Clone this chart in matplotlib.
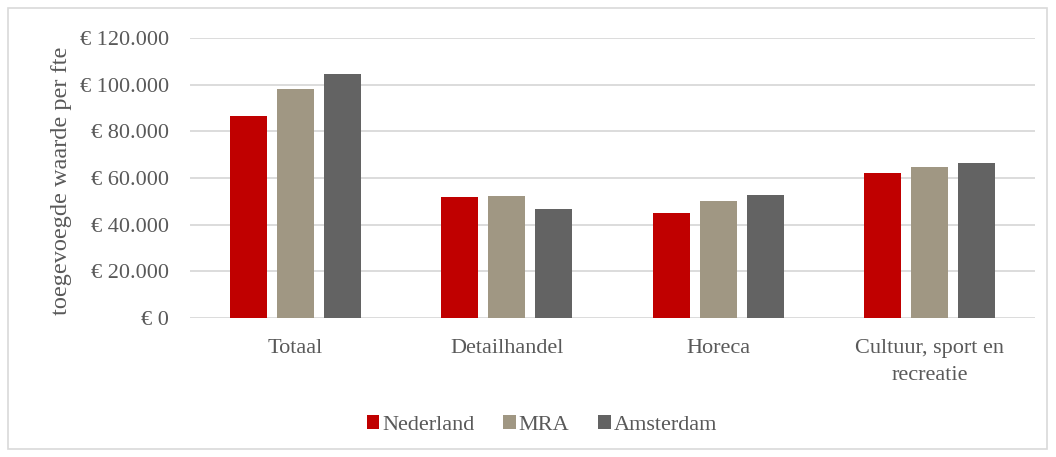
import matplotlib
matplotlib.use("Agg")
import matplotlib.pyplot as plt
from matplotlib.patches import Rectangle
import numpy as np

categories = ["Totaal", "Detailhandel", "Horeca", "Cultuur, sport en\nrecreatie"]
series_names = ["Nederland", "MRA", "Amsterdam"]
nederland = [86400, 52000, 44900, 62100]
mra = [98000, 52400, 50100, 64700]
amsterdam = [104600, 46700, 52900, 66300]
yticks = [0, 20000, 40000, 60000, 80000, 100000, 120000]
ytick_labels = ["€ 0", "€ 20.000", "€ 40.000", "€ 60.000", "€ 80.000", "€ 100.000", "€ 120.000"]
colors = ["#C00000", "#A09783", "#636363"]

plt.rcParams['font.family'] = ['Liberation Serif', 'DejaVu Serif']
text_color = "#595959"

W, H = 1056, 457
fig = plt.figure(figsize=(W / 100, H / 100), dpi=100)
ax = fig.add_axes([190 / W, 1 - 318 / H, (1035 - 190) / W, (318 - 38) / H])

x = np.arange(len(categories))
bw = 0.175
offs = 0.222
for i, (vals, name) in enumerate(zip([nederland, mra, amsterdam], series_names)):
    ax.bar(x + (i - 1) * offs, vals, width=bw, color=colors[i], label=name, zorder=3)

ax.set_xlim(-0.5, len(categories) - 0.5)
ax.set_ylim(0, 120000)
ax.set_yticks(yticks)
ax.set_yticklabels(ytick_labels)
ax.set_xticks(x)
ax.set_xticklabels(categories, linespacing=1.55)
ax.grid(axis='y', color='#d9d9d9', linewidth=1.3, zorder=0)
for s in ax.spines.values():
    s.set_visible(False)
ax.tick_params(axis='both', length=0, labelsize=16, colors=text_color)
ax.tick_params(axis='y', pad=15)
ax.tick_params(axis='x', pad=15)
ax.set_ylabel("toegevoegde waarde per fte", fontsize=17.5, color=text_color)
ax.yaxis.set_label_coords(-0.14, 0.49)

leg = fig.legend(loc='center', bbox_to_anchor=(542 / W, 1 - 425 / H), ncol=3, frameon=False,
                 fontsize=16, handlelength=0.55, handleheight=0.55, handletextpad=0.15,
                 columnspacing=1.3, labelcolor=text_color)

fig.patches.append(Rectangle((8 / W, 8 / H), (1047 - 8) / W, (449 - 8) / H, transform=fig.transFigure,
                             fill=False, edgecolor='#d9d9d9', linewidth=1.2))

fig.savefig("out.png", dpi=100)
